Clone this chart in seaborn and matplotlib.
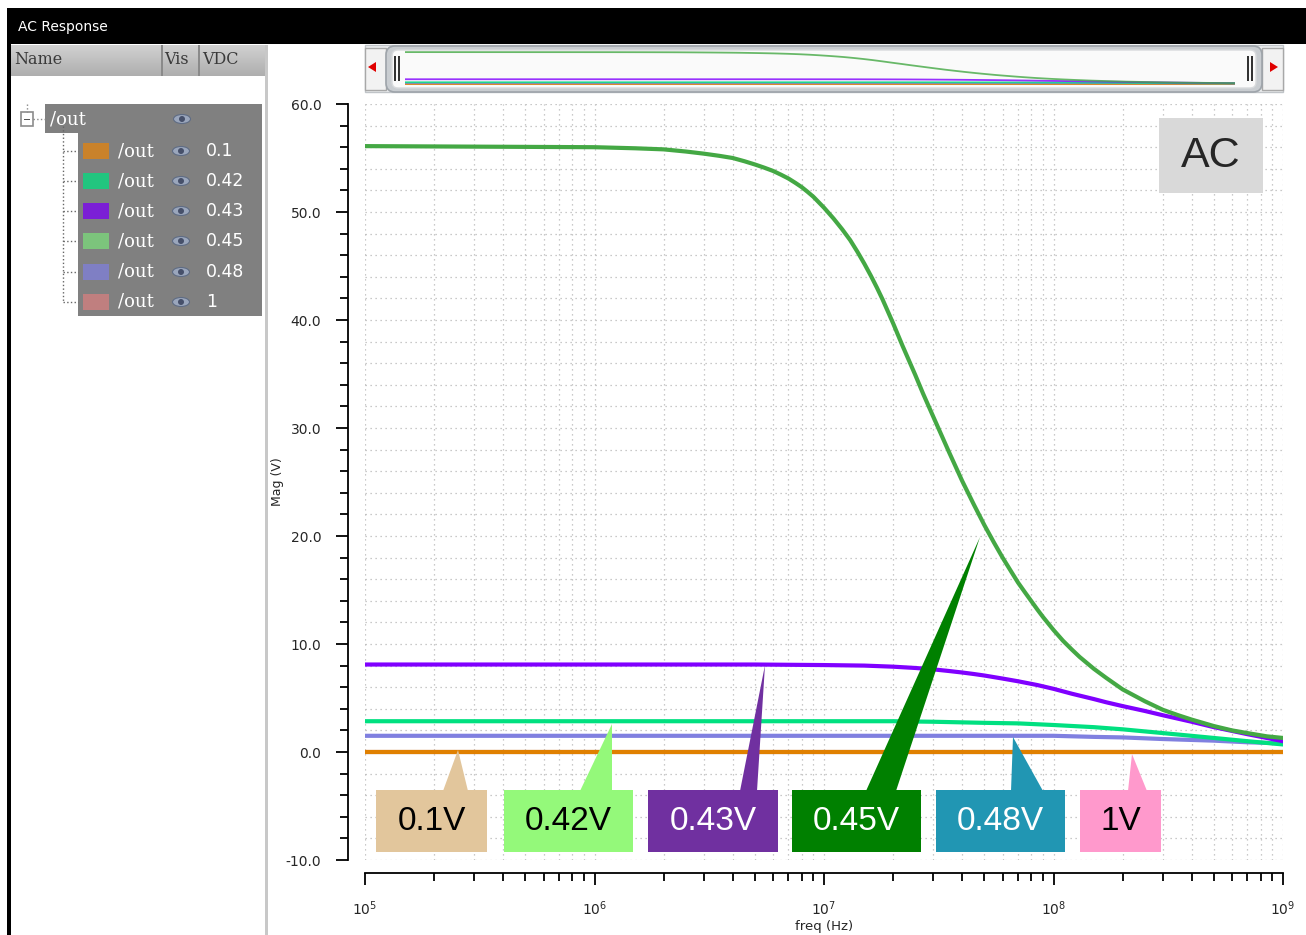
import numpy as np
import pandas as pd
import matplotlib
matplotlib.use("Agg")
import matplotlib.pyplot as plt
import matplotlib.ticker as mticker
from matplotlib.patches import Rectangle, Polygon, Ellipse, FancyBboxPatch
from matplotlib.transforms import IdentityTransform
import seaborn as sns

# AC sweep of /out for each VDC (freq in Hz, magnitude in V)
freq_010 = [1e5, 1e9]
mag_010 = [0.0, 0.0]

freq_042 = [1e5, 2e7, 3e7, 5e7, 7e7, 1e8, 1.5e8, 2e8, 3e8, 5e8, 7e8, 1e9]
mag_042 = [2.85, 2.85, 2.8, 2.7, 2.65, 2.5, 2.3, 2.1, 1.75, 1.3, 1.0, 0.7]

freq_043 = [1e5, 5e6, 1e7, 1.5e7, 2e7, 2.5e7, 3e7, 3.5e7, 4e7, 4.5e7, 5e7, 6e7, 7e7, 8.5e7,
            1e8, 1.2e8, 1.5e8, 1.7e8, 2e8, 2.5e8, 3e8, 4e8, 5e8, 6e8, 7e8, 8.5e8, 1e9]
mag_043 = [8.1, 8.1, 8.05, 8.0, 7.9, 7.78, 7.65, 7.5, 7.36, 7.22, 7.08, 6.8, 6.55, 6.2,
           5.85, 5.4, 4.9, 4.6, 4.25, 3.8, 3.4, 2.8, 2.3, 1.95, 1.65, 1.3, 1.0]

freq_045 = [1e5, 1e6, 1.5e6, 2e6, 2.5e6, 3e6, 3.5e6, 4e6, 4.5e6, 5e6, 5.5e6, 6e6, 6.5e6, 7e6,
            7.5e6, 8e6, 8.5e6, 9e6, 1e7, 1.1e7, 1.2e7, 1.3e7, 1.4e7, 1.5e7, 1.6e7, 1.7e7,
            1.8e7, 2e7, 2.2e7, 2.5e7, 2.7e7, 3e7, 3.5e7, 4e7, 4.5e7, 5e7, 5.5e7, 6e7, 6.5e7,
            7e7, 7.5e7, 8.5e7, 9e7, 1e8, 1.1e8, 1.2e8, 1.3e8, 1.5e8, 1.7e8, 2e8, 2.5e8, 3e8,
            3.5e8, 4e8, 5e8, 6e8, 7e8, 8.5e8, 1e9]
mag_045 = [56.1, 56.0, 55.9, 55.8, 55.6, 55.4, 55.2, 55.0, 54.7, 54.4, 54.1, 53.8, 53.45, 53.1,
           52.7, 52.3, 51.85, 51.4, 50.4, 49.4, 48.4, 47.4, 46.3, 45.2, 44.1, 43.0,
           41.9, 39.7, 37.6, 34.9, 33.2, 31.0, 27.8, 25.1, 22.9, 21.0, 19.4, 18.0, 16.8,
           15.7, 14.8, 13.2, 12.5, 11.3, 10.3, 9.5, 8.8, 7.7, 6.85, 5.8, 4.7, 3.9,
           3.4, 3.0, 2.4, 2.0, 1.75, 1.45, 1.3]

freq_048 = [1e5, 1e8, 1.5e8, 2e8, 3e8, 5e8, 7e8, 1e9]
mag_048 = [1.5, 1.5, 1.4, 1.35, 1.2, 1.05, 0.9, 0.8]

freq_100 = [1e5, 1e9]
mag_100 = [0.0, 0.0]

vdc_names = ["0.1", "0.42", "0.43", "0.45", "0.48", "1"]
trace_colors = ["#e08000", "#00e080", "#8000ff", "#44a844", "#8080e0", "#c08080"]
swatch_colors = ["#c9822b", "#22c57f", "#7b1fd6", "#7cc47c", "#7f7fc4", "#c07f7f"]
draw_order = ["1", "0.1", "0.48", "0.42", "0.43", "0.45"]

callout_labels = ["0.1V", "0.42V", "0.43V", "0.45V", "0.48V", "1V"]
callout_fills = ["#e2c69c", "#94f97a", "#7030a0", "#008000", "#2196b3", "#ff99cc"]
callout_inks = ["black", "black", "white", "white", "white", "black"]

# pixel geometry of the callouts: box x-span, pointer (base left, base right, tip x, tip y)
callout_boxes = [(376, 487), (504, 633), (648, 778), (792, 921), (936, 1065), (1080, 1161)]
callout_tails = [(443, 468, 458, 750), (580, 612, 612, 724), (740, 757, 765, 665),
                 (866, 896, 980, 537), (1011, 1043, 1013, 737), (1128, 1147, 1132, 754)]

traces = [(freq_010, mag_010), (freq_042, mag_042), (freq_043, mag_043),
          (freq_045, mag_045), (freq_048, mag_048), (freq_100, mag_100)]
df = pd.concat([pd.DataFrame({"freq": f, "mag": m, "vdc": v})
                for v, (f, m) in zip(vdc_names, traces)], ignore_index=True)
palette = dict(zip(vdc_names, trace_colors))

sns.set_style("ticks")
plt.rcParams["font.family"] = ["DejaVu Sans"]

W, H = 1306, 935
fig = plt.figure(figsize=(W / 100, H / 100), dpi=100)
PX = IdentityTransform()


def rect(x0, y0, x1, y1, **kw):
    fig.add_artist(Rectangle((x0, H - y1), x1 - x0, y1 - y0, transform=PX, **kw))


def txt(x, y, s, **kw):
    fig.text(x, H - y, s, transform=PX, **kw)


# ---- main plot ----
ax = fig.add_axes([365 / W, 1 - 860 / H, 918 / W, 756 / H])
ax.set_xscale("log")
sns.lineplot(data=df, x="freq", y="mag", hue="vdc", hue_order=draw_order, palette=palette,
             linewidth=3, legend=False, estimator=None, ax=ax)
ax.set_xlim(1e5, 1e9)
ax.set_ylim(-10, 60)
ax.yaxis.set_major_locator(mticker.MultipleLocator(10))
ax.yaxis.set_minor_locator(mticker.MultipleLocator(2))
ax.yaxis.set_major_formatter(mticker.FormatStrFormatter("%.1f"))
ax.xaxis.set_major_locator(mticker.LogLocator(base=10, numticks=10))
ax.xaxis.set_minor_locator(mticker.LogLocator(base=10, subs=np.arange(2, 10), numticks=20))
ax.xaxis.set_minor_formatter(mticker.NullFormatter())
ax.grid(which="both", color="#b8b8b8", linestyle=(0, (1, 3)), linewidth=0.9)
for s in ["top", "right"]:
    ax.spines[s].set_visible(False)
ax.spines["left"].set_position(("outward", 12))
ax.spines["bottom"].set_position(("outward", 9))
for s in ["left", "bottom"]:
    ax.spines[s].set_linewidth(1.3)
    ax.spines[s].set_color("black")
ax.tick_params(which="major", direction="out", length=8.5, width=1.3, labelsize=10, color="black")
ax.tick_params(which="minor", direction="out", length=5.5, width=1.3, color="black")
ax.tick_params(axis="y", pad=11)
ax.tick_params(axis="x", pad=11)
ax.set_xlabel("freq (Hz)", fontsize=9.5, labelpad=1)
ax.set_ylabel("Mag (V)", fontsize=9, labelpad=1)

# callouts
for lab, fc, ink, (bx0, bx1), (t0, t1, tx, ty) in zip(callout_labels, callout_fills, callout_inks,
                                                     callout_boxes, callout_tails):
    rect(bx0, 790, bx1, 852, facecolor=fc, edgecolor="none", zorder=4)
    fig.add_artist(Polygon([(t0, H - 791), (t1, H - 791), (tx, H - ty)], closed=True,
                           facecolor=fc, edgecolor="none", transform=PX, zorder=4))
    txt((bx0 + bx1) / 2, 822, lab, color=ink, fontsize=24, family="Liberation Sans",
        ha="center", va="center", zorder=5)

rect(1159, 118, 1263, 193, facecolor="#d9d9d9", edgecolor="none", zorder=4)
txt(1211, 156, "AC", fontsize=31, family="Liberation Sans", ha="center", va="center", zorder=5)

# ---- overview scroller ----
rect(365, 45, 1283, 92, facecolor="#eceeef", edgecolor="#c0c4c8", linewidth=1)
rect(365, 48, 386, 90, facecolor="#f2f2f2", edgecolor="#a8a8a8", linewidth=1)
rect(1262, 48, 1283, 90, facecolor="#f2f2f2", edgecolor="#a8a8a8", linewidth=1)
fig.add_artist(Polygon([(376, H - 62), (376, H - 72), (368, H - 67)], facecolor="#e00000",
                       edgecolor="none", transform=PX))
fig.add_artist(Polygon([(1270, H - 62), (1270, H - 72), (1278, H - 67)], facecolor="#e00000",
                       edgecolor="none", transform=PX))
fig.add_artist(FancyBboxPatch((386, H - 92), 876, 46, boxstyle="round,pad=0,rounding_size=9",
                              facecolor="#c9cdd1", edgecolor="#9ea4aa", linewidth=1.2, transform=PX))
fig.add_artist(FancyBboxPatch((392, H - 88), 864, 38, boxstyle="round,pad=0,rounding_size=6",
                              facecolor="#fafafa", edgecolor="#d8dadc", linewidth=1, transform=PX))
for gx in [394, 398, 1247, 1251]:
    rect(gx, 56, gx + 1.5, 81, facecolor="#333333", edgecolor="none")

ov = fig.add_axes([405 / W, 1 - 87 / H, 830 / W, 38 / H], zorder=3)
ov.set_xscale("log")
sns.lineplot(data=df, x="freq", y="mag", hue="vdc", hue_order=draw_order, palette=palette,
             linewidth=1.3, legend=False, estimator=None, ax=ov, alpha=0.8)
ov.set_xlim(1e5, 1e9)
ov.set_ylim(-5.6, 61.6)
ov.set_axis_off()
ov.patch.set_alpha(0)

# ---- window chrome ----
rect(7, 8, W, 44, facecolor="black", edgecolor="none")
rect(7, 8, 11, H, facecolor="black", edgecolor="none")
txt(18, 27, "AC Response", color="white", fontsize=10, va="center")

hdr = fig.add_axes([11 / W, 1 - 76 / H, 254 / W, 31 / H])
hdr.imshow(np.linspace(0.82, 0.68, 32).reshape(-1, 1), cmap="gray", vmin=0, vmax=1,
           aspect="auto", extent=[0, 1, 0, 1])
hdr.set_axis_off()
for dx in [161, 198]:
    rect(dx, 45, dx + 1.5, 76, facecolor="#8a8a8a", edgecolor="none")
for hx, ht in [(14, "Name"), (164, "Vis"), (202, "VDC")]:
    txt(hx, 59, ht, family="DejaVu Serif", fontsize=11.5, color="#3a3a3a", va="center")
rect(265, 45, 268, H, facecolor="#c8c8c8", edgecolor="none")

# signal tree
rect(21, 112, 33, 126, facecolor="white", edgecolor="#8c8c8c", linewidth=1.2)
rect(24, 118.5, 30, 120, facecolor="#555555", edgecolor="none")
fig.add_artist(plt.Line2D([27, 27], [H - 104, H - 112], transform=PX, color="#888888",
                          linestyle=":", linewidth=1))
fig.add_artist(plt.Line2D([33, 45], [H - 119, H - 119], transform=PX, color="#888888",
                          linestyle=":", linewidth=1))
rect(45, 104, 262, 133, facecolor="#808080", edgecolor="none")
rect(78, 133, 262, 316, facecolor="#808080", edgecolor="none")
txt(50, 120, "/out", family="DejaVu Serif", fontsize=13, color="white", va="center")


def eye(x, y):
    fig.add_artist(Ellipse((x, H - y), 17, 9, facecolor="#9aa6bc", edgecolor="#5f6c84",
                           linewidth=0.8, transform=PX))
    fig.add_artist(Ellipse((x, H - y), 6, 6, facecolor="#46506a", edgecolor="none", transform=PX))


eye(182, 119)
row_y = [151, 181, 211, 241, 272, 302]
fig.add_artist(plt.Line2D([63, 63], [H - 126, H - 302], transform=PX, color="#666666",
                          linestyle=":", linewidth=1))
for ry, name, sw in zip(row_y, vdc_names, swatch_colors):
    fig.add_artist(plt.Line2D([63, 78], [H - ry, H - ry], transform=PX, color="#666666",
                              linestyle=":", linewidth=1))
    rect(83, ry - 8, 109, ry + 8, facecolor=sw, edgecolor="none")
    txt(118, ry, "/out", family="DejaVu Serif", fontsize=13, color="white", va="center")
    eye(181, ry)
    txt(206, ry, name, fontsize=12.5, color="white", va="center")

fig.savefig("out.png", dpi=100)
